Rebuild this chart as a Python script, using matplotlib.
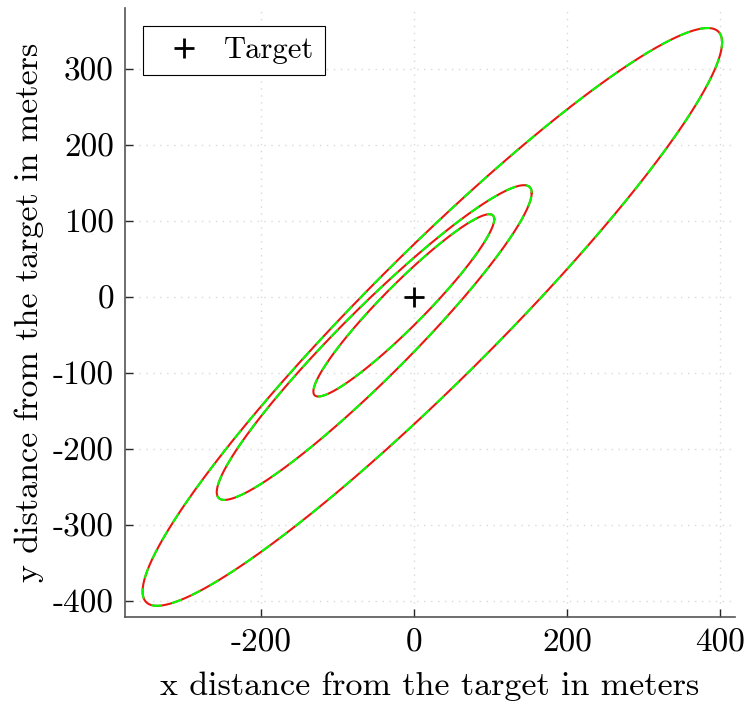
import numpy as np
import matplotlib
matplotlib.use('Agg')
import matplotlib.pyplot as plt

plt.rcParams['font.family'] = 'cmr10'
plt.rcParams['axes.unicode_minus'] = False
plt.rcParams['axes.formatter.use_mathtext'] = False

# Error ellipses: centre, std in x / y, correlation
center_x = [24.0, -52.0, -13.3]
center_y = [-26.3, -60.0, -11.1]
sigma_x = [379.0, 206.0, 118.3]
sigma_y = [380.0, 207.0, 119.9]
rho = [0.950, 0.951, 0.945]

target = (0, 0)
x_ticks = [-200, 0, 200, 400]
y_ticks = [-400, -300, -200, -100, 0, 100, 200, 300]

fig = plt.figure(figsize=(7.44, 7.04), dpi=100)
ax = fig.add_axes([0.168, 0.1236, 0.82, 0.865])

t = np.linspace(0, 2 * np.pi, 721)
circle = np.vstack([np.cos(t), np.sin(t)])
for cx, cy, sx, sy, r in zip(center_x, center_y, sigma_x, sigma_y, rho):
    cov = np.array([[sx**2, r * sx * sy], [r * sx * sy, sy**2]])
    L = np.linalg.cholesky(cov)
    pts = L @ circle
    ax.plot(cx + pts[0], cy + pts[1], color='#e8170f', lw=1.5, zorder=3)
    ax.plot(cx + pts[0], cy + pts[1], color='#00ff00', lw=1.5,
            ls=(0, (5, 5)), zorder=4)

ax.plot(*target, marker='+', color='k', ls='none', markersize=14,
        markeredgewidth=2, label='Target', zorder=5)

ax.set_xlim(-378, 420)
ax.set_ylim(-421, 380)
ax.set_xticks(x_ticks)
ax.set_yticks(y_ticks)
ax.set_xticklabels([str(v) for v in x_ticks])
ax.set_yticklabels([str(v) for v in y_ticks])
ax.tick_params(direction='in', length=6, width=1, labelsize=24,
               color='#262626', pad=8)
for s in ['top', 'right']:
    ax.spines[s].set_visible(False)
for s in ['left', 'bottom']:
    ax.spines[s].set_color('#555555')
    ax.spines[s].set_linewidth(1.2)
ax.grid(True, ls=(0, (1, 4)), color='#d8d8d8', lw=1)
ax.set_axisbelow(True)

ax.set_xlabel('x distance from the target in meters', fontsize=24.5,
              labelpad=10)
ax.set_ylabel('y distance from the target in meters', fontsize=24.5,
              labelpad=6)

leg = ax.legend(loc='upper left', fontsize=22, fancybox=False,
                edgecolor='k', framealpha=1, borderpad=0.35,
                handletextpad=0.3, bbox_to_anchor=(0.0295, 0.970),
                borderaxespad=0)
leg.get_frame().set_linewidth(0.8)

fig.savefig('out.png', dpi=100)
